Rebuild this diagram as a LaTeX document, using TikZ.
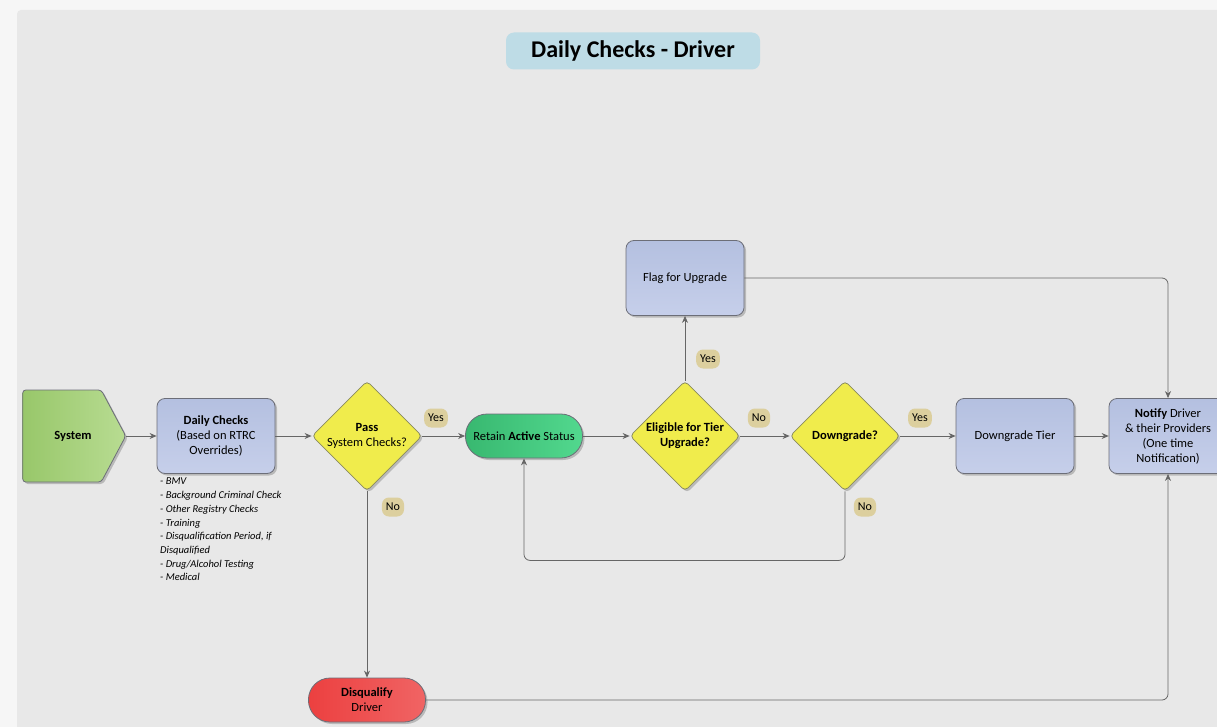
\documentclass[tikz,border=0pt]{standalone}
\usepackage{fontspec}
\setmainfont{Carlito}
\usepackage{tikz}
\usetikzlibrary{positioning,calc,shapes.geometric,shapes.symbols,shadows,arrows.meta}
\definecolor{pagebg}{HTML}{F6F6F6}
\definecolor{panelbg}{HTML}{E8E8E8}
\definecolor{titleblue}{HTML}{BEDCE6}
\definecolor{linegrey}{HTML}{666666}
\definecolor{edgegrey}{HTML}{6C6E78}
\definecolor{boxtop}{HTML}{B4C0E0}
\definecolor{boxbot}{HTML}{C6CFEA}
\definecolor{sysleft}{HTML}{98C76A}
\definecolor{sysright}{HTML}{B8DC92}
\definecolor{diayellow}{HTML}{F0EC4C}
\definecolor{retleft}{HTML}{38B870}
\definecolor{retright}{HTML}{52D88E}
\definecolor{disqleft}{HTML}{EC4040}
\definecolor{disqright}{HTML}{F06464}
\definecolor{pilltan}{HTML}{DCCF9E}

\tikzset{
  shade/.style={drop shadow={shadow xshift=2pt,shadow yshift=-2pt,opacity=.2,fill=black}},
  flowline/.style={draw=linegrey,line width=0.8pt,-{Stealth[length=7pt,width=6pt]},rounded corners=6pt},
  procbox/.style={rectangle,rounded corners=8pt,draw=edgegrey,line width=0.8pt,
    top color=boxtop,bottom color=boxbot,minimum width=118pt,minimum height=75pt,
    align=center,font=\fontsize{12.5}{15}\selectfont,shade},
  decision/.style={diamond,aspect=1,draw=edgegrey!80!yellow,line width=0.8pt,fill=diayellow,
    minimum size=110pt,inner sep=-8pt,rounded corners=4pt,align=center,
    font=\fontsize{12.5}{15}\selectfont,shade},
  terminal/.style={rectangle,rounded corners=21.5pt,draw=edgegrey,line width=0.8pt,
    minimum width=117pt,minimum height=44pt,align=center,
    font=\fontsize{12.5}{15}\selectfont,shade},
  pill/.style={rectangle,rounded corners=7pt,fill=pilltan,inner xsep=4pt,inner ysep=2pt,
    minimum height=19pt,font=\fontsize{12}{14}\selectfont}
}

\begin{document}
\begin{tikzpicture}[x=1pt,y=-1pt]
  \useasboundingbox (0,0) rectangle (1217,727);
  \fill[pagebg] (0,0) rectangle (1217,727);
  \fill[panelbg,rounded corners=4pt] (17,10) rectangle (1240,750);

  \node[rectangle,rounded corners=8pt,fill=titleblue,minimum width=254pt,minimum height=37pt,
    font=\fontsize{24}{28}\selectfont\bfseries] (title) at (633,51) {Daily Checks - Driver};

  % main row
  \node[signal,signal to=east,signal pointer angle=124,draw=edgegrey,line width=0.8pt,
    left color=sysleft,right color=sysright,minimum width=103pt,minimum height=92pt,
    rounded corners=3pt,font=\fontsize{12.5}{15}\selectfont\bfseries,shade] (sys) at (62,436) {\hspace*{22pt}System};
  \node[procbox] (daily) at (216,436) {\textbf{Daily Checks}\\(Based on RTRC\\Overrides)};
  \node[decision] (pass) at (367,436) {\textbf{Pass}\\System Checks?};
  \node[terminal,left color=retleft,right color=retright] (retain) at (524,436) {Retain \textbf{Active} Status};
  \node[decision] (elig) at (685,436) {\textbf{Eligible for Tier}\\\textbf{Upgrade?}};
  \node[decision] (down) at (845,436) {\textbf{Downgrade?}};
  \node[procbox] (tier) at (1015,436) {Downgrade Tier};
  \node[procbox] (notify) at (1168,436) {\textbf{Notify} Driver\\\& their Providers\\(One time\\Notification)};
  \node[procbox] (flag) at (685,278) {Flag for Upgrade};
  \node[terminal,left color=disqleft,right color=disqright] (disq) at (367,700) {\textbf{Disqualify}\\Driver};

  \node[anchor=north west,align=left,inner sep=0pt,
    font=\fontsize{10.5}{13.7}\selectfont\itshape] (checks) at (160,478)
    {- BMV\\- Background Criminal Check\\- Other Registry Checks\\- Training\\
     - Disqualification Period, if\\Disqualified\\- Drug/Alcohol Testing\\- Medical};

  % connectors
  \draw[flowline] (sys.east) -- (daily);
  \draw[flowline] (daily) -- (pass);
  \draw[flowline] (pass) -- (retain);
  \draw[flowline] (retain) -- (elig);
  \draw[flowline] (elig) -- (flag);
  \draw[flowline] (elig) -- (down);
  \draw[flowline] (down) -- (tier);
  \draw[flowline] (tier) -- (notify);
  \draw[flowline] (down.south) -- ++(0,69) -| (retain.south);
  \draw[flowline] (pass) -- (disq);
  \draw[flowline] (flag) -| (notify);
  \draw[flowline] (disq) -| (notify);

  % yes / no tags
  \node[pill] (passyes) at (436,418) {Yes};
  \node[pill] (passno) at (393,507) {No};
  \node[pill] (eligyes) at (708,359) {Yes};
  \node[pill] (eligno) at (759,418) {No};
  \node[pill] (downyes) at (920,418) {Yes};
  \node[pill] (downno) at (865,507) {No};
\end{tikzpicture}
\end{document}
